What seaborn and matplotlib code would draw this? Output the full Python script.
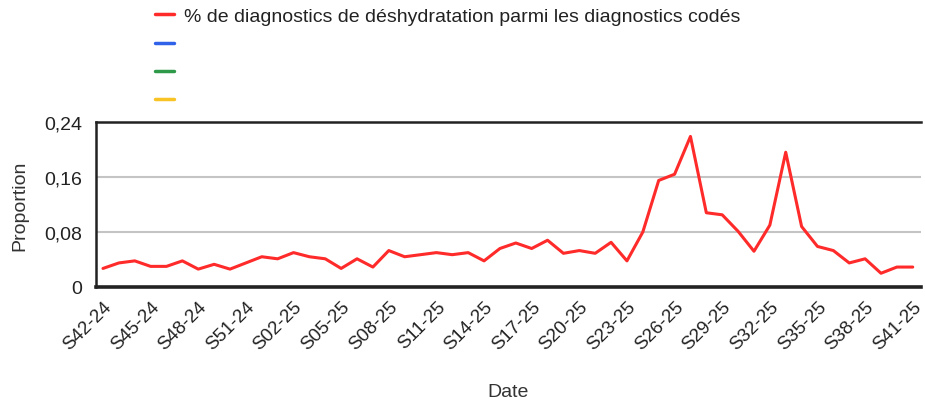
import matplotlib
matplotlib.use("Agg")
import matplotlib.pyplot as plt
from matplotlib.lines import Line2D
import numpy as np
import pandas as pd
import seaborn as sns

# weekly data, S42-24 .. S41-25
weeks = [f"S{w:02d}-24" for w in range(42, 53)] + [f"S{w:02d}-25" for w in range(1, 42)]
proportion = [
    0.027, 0.035, 0.038, 0.030, 0.030, 0.038, 0.026, 0.033, 0.026, 0.035,
    0.044, 0.041, 0.050, 0.044, 0.041, 0.027, 0.041, 0.029, 0.053, 0.044,
    0.047, 0.050, 0.047, 0.050, 0.038, 0.056, 0.064, 0.056, 0.068, 0.049,
    0.053, 0.049, 0.065, 0.038, 0.080, 0.155, 0.164, 0.219, 0.108, 0.105,
    0.081, 0.052, 0.090, 0.196, 0.088, 0.059, 0.053, 0.035, 0.041, 0.020,
    0.029, 0.029,
]
series_label = "% de diagnostics de déshydratation parmi les diagnostics codés"
empty_colors = ["#2f62e8", "#2e9a49", "#f7c325"]
y_ticks = [0, 0.08, 0.16, 0.24]
y_labels = ["0", "0,08", "0,16", "0,24"]

df = pd.DataFrame({"idx": np.arange(len(weeks)), "week": weeks, "value": proportion})

sns.set_style("white")
plt.rcParams["font.family"] = ["Liberation Sans", "DejaVu Sans"]

fig = plt.figure(figsize=(9.25, 4.06), dpi=100)
ax = fig.add_axes([96 / 925, 1 - 288 / 406, 825 / 925, 165 / 406])

sns.lineplot(data=df, x="idx", y="value", color="#ff2a2a", linewidth=2.2, ax=ax)

ax.set_xlim(-0.44, len(weeks) - 1 + 0.52)
ax.set_ylim(0, 0.24)
ax.set_yticks(y_ticks)
ax.set_yticklabels(y_labels, fontsize=14, color="#222222")
tick_idx = list(range(0, len(weeks), 3))
ax.set_xticks(tick_idx)
ax.set_xticklabels([weeks[i] for i in tick_idx], rotation=45, ha="right",
                   rotation_mode="anchor", fontsize=13.5, color="#222222")
ax.tick_params(axis="x", direction="inout", length=9, width=1.3, color="#222222", pad=3)
ax.tick_params(axis="y", length=0, pad=10)

for y in [0.08, 0.16]:
    ax.axhline(y, color="#c4c4c4", linewidth=1.5, zorder=0)

ax.spines["right"].set_visible(False)
for side in ["left", "top"]:
    ax.spines[side].set_color("#222222")
    ax.spines[side].set_linewidth(1.8)
ax.spines["bottom"].set_color("#222222")
ax.spines["bottom"].set_linewidth(2.6)

ax.set_xlabel("Date", fontsize=14, color="#333333", labelpad=22)
ax.set_ylabel("Proportion", fontsize=14, color="#333333", labelpad=11)

handles = [Line2D([], [], color="#ff2a2a", linewidth=2.5)]
handles += [Line2D([], [], color=c, linewidth=2.5) for c in empty_colors]
labels = [series_label, "", "", ""]
fig.legend(handles, labels, loc="upper left", bbox_to_anchor=(137 / 925, 1.022),
           frameon=False, fontsize=14, handlelength=1.0, handletextpad=0.5,
           labelspacing=0.55, labelcolor="#222222")

fig.savefig("out.png", dpi=100)
